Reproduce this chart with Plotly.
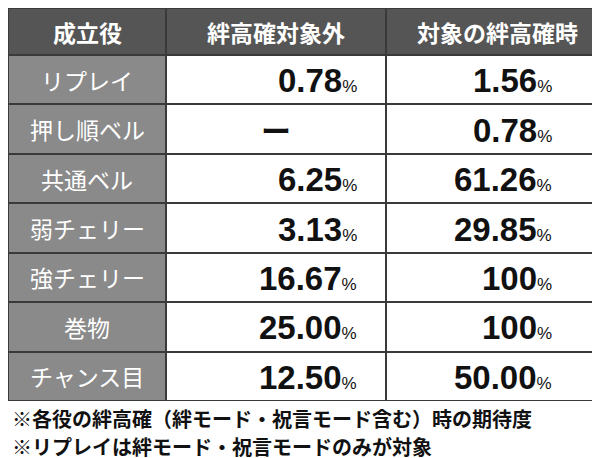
import plotly.graph_objects as go

headers = ["成立役", "絆高確対象外", "対象の絆高確時"]
roles = ["リプレイ", "押し順ベル", "共通ベル", "弱チェリー", "強チェリー", "巻物", "チャンス目"]
col_outside = ["0.78", None, "6.25", "3.13", "16.67", "25.00", "12.50"]
col_target = ["1.56", "0.78", "61.26", "29.85", "100", "100", "50.00"]
notes = ["※各役の絆高確（絆モード・祝言モード含む）時の期待度",
         "※リプレイは絆モード・祝言モードのみが対象"]

F = "Noto Sans CJK JP"
col_edges = [0, 158, 378, 600]
H0 = 47
RH = (393 - H0) / len(roles)
row_edges = [0, H0] + [H0 + RH * (i + 1) for i in range(len(roles))]
z = [[0, 0, 0]] + [[1, 2, 2] for _ in roles]

fig = go.Figure(go.Heatmap(
    x=col_edges, y=row_edges, z=z, zmin=0, zmax=2, showscale=False, hoverinfo="skip",
    colorscale=[[0, "#555555"], [0.5, "#8a8a8a"], [1, "white"]], xgap=2, ygap=2))

def yc(i):
    return (row_edges[i] + row_edges[i + 1]) / 2

for j, h in enumerate(headers):
    fig.add_annotation(x=(col_edges[j] + col_edges[j + 1]) / 2, y=yc(0), text="<b>%s</b>" % h,
                       showarrow=False, font=dict(family=F, size=23, color="white"))
for i, r in enumerate(roles):
    y = yc(i + 1)
    fig.add_annotation(x=79, y=y, text=r, showarrow=False,
                       font=dict(family=F, size=23, color="white"))
    for v, xr in ((col_outside[i], 351), (col_target[i], 546)):
        if v is None:
            fig.add_annotation(x=268, y=y, text="<b>ー</b>", showarrow=False,
                               font=dict(family=F, size=30, color="#111"))
        else:
            fig.add_annotation(x=xr, y=y + 1, xanchor="right", showarrow=False,
                               text="<b>%s</b><span style='font-size:17px'>%%</span>" % v,
                               font=dict(family="Liberation Sans", size=33, color="#111"))
for k, n in enumerate(notes):
    fig.add_annotation(text="<b>%s</b>" % n, x=0.003, xanchor="left", y=1 - (410 + 28 * k) / 458,
                       yanchor="middle", xref="paper", yref="paper", showarrow=False,
                       font=dict(family=F, size=20, color="#111"))
fig.update_xaxes(range=[0, 600], visible=False)
fig.update_yaxes(range=[393, 0], visible=False, domain=[1 - 393 / 458, 1])
fig.update_layout(width=600, height=458, margin=dict(l=0, r=0, t=0, b=0),
                  paper_bgcolor="white", plot_bgcolor="#3a3a3a")
fig.write_html("out.html")
